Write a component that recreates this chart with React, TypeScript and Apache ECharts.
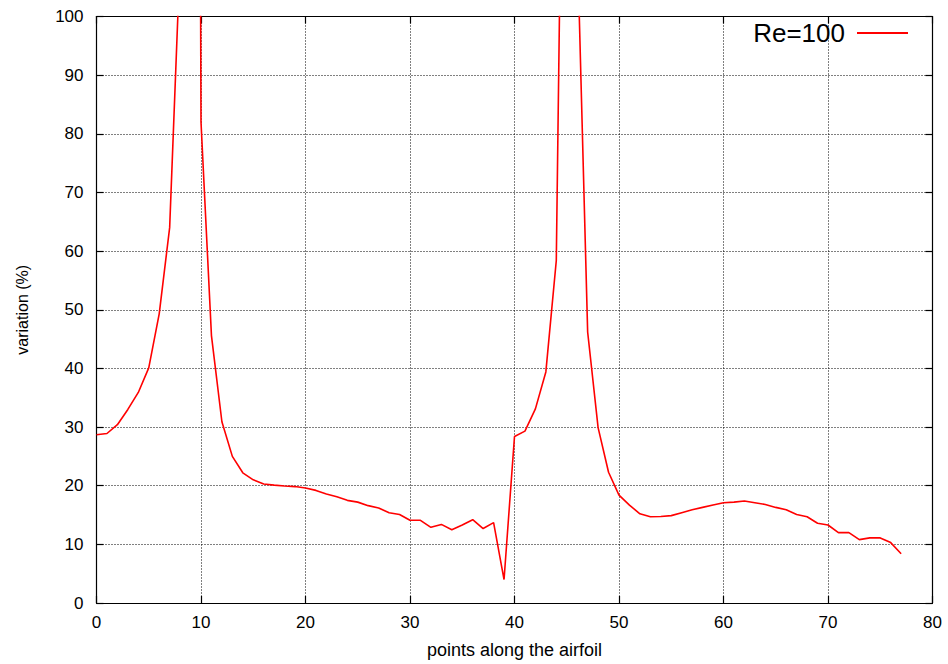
import React, { useEffect, useRef } from "react";
import * as echarts from "echarts";

// point index along the airfoil: 0..77
const variation: number[] = [
  28.7, 28.9, 30.4, 33.0, 35.9, 40.1, 49.3, 64.0, 110, 600,
  82, 45.6, 30.9, 25.0, 22.2, 21.0, 20.3, 20.1, 19.95, 19.85,
  19.6, 19.2, 18.6, 18.1, 17.5, 17.2, 16.6, 16.2, 15.4, 15.1,
  14.1, 14.1, 12.9, 13.4, 12.5, 13.3, 14.2, 12.7, 13.7, 4.0,
  28.4, 29.3, 33.1, 39.4, 58.4, 197, 113.5, 46.2, 29.9, 22.3,
  18.4, 16.7, 15.2, 14.7, 14.75, 14.9, 15.4, 15.9, 16.3, 16.7,
  17.1, 17.2, 17.4, 17.1, 16.8, 16.3, 15.9, 15.1, 14.7, 13.6,
  13.3, 12.0, 12.0, 10.8, 11.1, 11.1, 10.3, 8.4,
];
const seriesName = "Re=100";
const xTitle = "points along the airfoil";
const yTitle = "variation (%)";
const xRange = [0, 80];
const yRange = [0, 100];
const tickStep = 10;

const FONT = "'Liberation Sans', Arial, Helvetica, sans-serif";

export default function App() {
  const ref = useRef<HTMLDivElement>(null);
  useEffect(() => {
    if (!ref.current) return;
    const chart = echarts.init(ref.current, undefined, { renderer: "svg" });
    const points = variation.map((v, i) => [i, v]);
    const axisLine = { show: true, onZero: false, lineStyle: { color: "#000", width: 1.2 } };
    const tick = { show: true, inside: true, length: 7, lineStyle: { color: "#000", width: 1.2 } };
    const grid = { show: true, lineStyle: { color: "#000", type: [1, 2], width: 1 } };
    const label = { color: "#000", fontSize: 17, fontFamily: FONT };
    chart.setOption({
      animation: false,
      backgroundColor: "#fff",
      grid: { left: 96.5, right: 15.5, top: 16.5, bottom: 58.5, containLabel: false },
      legend: {
        show: true,
        right: 40,
        top: 20,
        padding: 0,
        align: "right",
        icon: "rect",
        itemWidth: 51,
        itemHeight: 2,
        textStyle: { color: "#000", fontSize: 26, fontFamily: FONT, padding: [0, 7, 0, 0] },
        data: [seriesName],
      },
      xAxis: [
        {
          type: "value",
          min: xRange[0],
          max: xRange[1],
          interval: tickStep,
          position: "bottom",
          axisLine,
          axisTick: tick,
          splitLine: grid,
          axisLabel: { ...label, margin: 11 },
          name: xTitle,
          nameLocation: "middle",
          nameGap: 38,
          nameTextStyle: { color: "#000", fontSize: 18, fontFamily: FONT },
        },
        {
          type: "value",
          min: xRange[0],
          max: xRange[1],
          interval: tickStep,
          position: "top",
          axisLine,
          axisTick: tick,
          splitLine: { show: false },
          axisLabel: { show: false },
        },
      ],
      yAxis: [
        {
          type: "value",
          min: yRange[0],
          max: yRange[1],
          interval: tickStep,
          position: "left",
          axisLine,
          axisTick: tick,
          splitLine: grid,
          axisLabel: { ...label, margin: 13 },
          name: yTitle,
          nameLocation: "middle",
          nameRotate: 90,
          nameGap: 66,
          nameTextStyle: { color: "#000", fontSize: 16, fontFamily: FONT },
        },
        {
          type: "value",
          min: yRange[0],
          max: yRange[1],
          interval: tickStep,
          position: "right",
          axisLine,
          axisTick: tick,
          splitLine: { show: false },
          axisLabel: { show: false },
        },
      ],
      series: [
        {
          name: seriesName,
          type: "line",
          data: points,
          xAxisIndex: 0,
          yAxisIndex: 0,
          showSymbol: false,
          symbol: "none",
          clip: true,
          color: "#ff0000",
          lineStyle: { color: "#ff0000", width: 1.6 },
        },
      ],
    });
    return () => chart.dispose();
  }, []);
  return (
    <div
      ref={ref}
      style={{ position: "fixed", left: 0, top: 0, width: 948, height: 664, background: "#fff" }}
    />
  );
}
